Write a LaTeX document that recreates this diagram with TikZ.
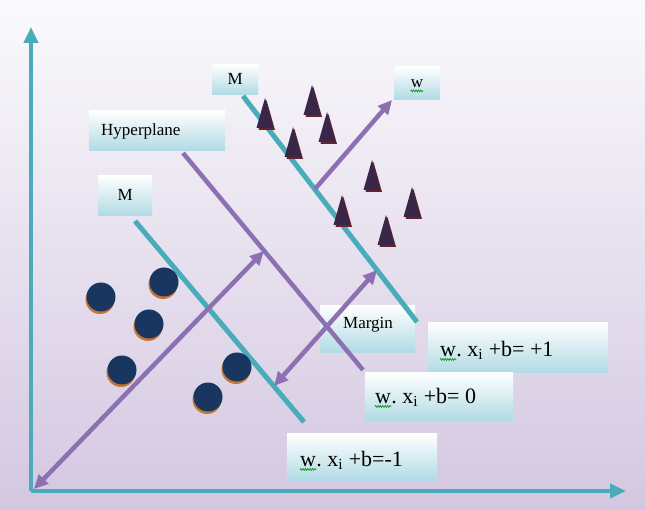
\documentclass[tikz,border=0pt]{standalone}
\usepackage{fontspec}
\setmainfont{Liberation Serif}
\usetikzlibrary{arrows.meta,decorations.pathmorphing}
\definecolor{teal1}{RGB}{72,172,186}
\definecolor{purp}{RGB}{140,112,178}
\definecolor{tric}{RGB}{58,38,72}
\definecolor{trish}{RGB}{100,36,46}
\definecolor{dotc}{RGB}{24,54,96}
\definecolor{dotsh}{RGB}{196,118,50}
\definecolor{boxbot}{RGB}{178,219,229}
\definecolor{bgtop}{RGB}{250,250,252}
\definecolor{bgbot}{RGB}{212,199,225}
\begin{document}
\begin{tikzpicture}[x=1pt,y=-1pt,
  box/.style={shade, top color=white, bottom color=boxbot, inner sep=0pt, draw=none, anchor=north west},
  lbl/.style={inner sep=0pt, font=\fontsize{17}{20}\selectfont},
  eqt/.style={inner sep=0pt, font=\fontsize{22}{25}\selectfont, anchor=base west},
  tealline/.style={teal1, line width=5pt},
  purpline/.style={purp, line width=4.5pt},
  parrow/.style={purp, line width=4.5pt, -{Triangle[length=14pt,width=13pt]}},
  pdarrow/.style={purp, line width=4.5pt, {Triangle[length=14pt,width=13pt]}-{Triangle[length=14pt,width=13pt]}},
  axis/.style={teal1, line width=4.5pt, -{Triangle[length=16pt,width=14pt]}},
  squig/.style={green!55!black, line width=0.6pt, decorate, decoration={zigzag, amplitude=1pt, segment length=2.4pt}}
]
\useasboundingbox (0,0) rectangle (645,510);
\shade[top color=bgtop, bottom color=bgbot] (0,0) rectangle (645,510);

% boxes
\node[box, minimum width=46pt, minimum height=30pt] (bMt) at (212,64) {};
\node[box, minimum width=46pt, minimum height=33pt] (bw) at (394,66) {};
\node[box, minimum width=136pt, minimum height=40pt] (bH) at (89,110) {};
\node[box, minimum width=54pt, minimum height=40pt] (bMl) at (98,175) {};
\node[box, minimum width=95pt, minimum height=47pt] (bMg) at (320,305) {};
\node[box, minimum width=180pt, minimum height=50pt] (bp1) at (428,322) {};
\node[box, minimum width=148pt, minimum height=48pt] (bz) at (365,372) {};
\node[box, minimum width=150pt, minimum height=47pt] (bm1) at (287,433) {};

% label texts
\node[lbl] (tMt) at (bMt.center) {M};
\node[lbl] (tMl) at (bMl.center) {M};
\node[lbl, anchor=base west] (tH) at (101,136) {Hyperplane};
\node[lbl, anchor=base west] (tMg) at (343,329) {Margin};
\node[lbl, anchor=base] (tw) at (417,88) {w};
\draw[squig] ([yshift=-2.5pt]tw.south west) -- ([yshift=-2.5pt]tw.south east);

\node[eqt] (wp1) at (440,356) {w};
\node[eqt] (rp1) at (wp1.base east) {.\ x\textsubscript{i} +b= +1};
\draw[squig] ([yshift=-3pt]wp1.south west) -- ([yshift=-3pt]wp1.south east);
\node[eqt] (wz) at (375,403) {w};
\node[eqt] (rz) at (wz.base east) {.\ x\textsubscript{i} +b= 0};
\draw[squig] ([yshift=-3pt]wz.south west) -- ([yshift=-3pt]wz.south east);
\node[eqt] (wm1) at (300,466) {w};
\node[eqt] (rm1) at (wm1.base east) {.\ x\textsubscript{i} +b=-1};
\draw[squig] ([yshift=-3pt]wm1.south west) -- ([yshift=-3pt]wm1.south east);

% axes
\coordinate (O) at (31,491);
\coordinate (Ytop) at (31,27);
\coordinate (Xend) at (626,491);
\draw[axis] (O) -- (Ytop);
\draw[axis] (O) -- (Xend);

% lines
\coordinate (tMa) at (243,96);
\coordinate (tMb) at (417,322);
\coordinate (hA) at (183,153);
\coordinate (hB) at (363,370);
\coordinate (lMa) at (135,221);
\coordinate (lMb) at (304,422);
\draw[tealline] (tMa) -- (tMb);
\draw[tealline] (lMa) -- (lMb);
\draw[purpline] (hA) -- (hB);

% arrows
\coordinate (wA) at (315,189);
\coordinate (wB) at (392,100);
\coordinate (lA) at (34,489);
\coordinate (lB) at (264,251);
\coordinate (mA) at (274,386);
\coordinate (mB) at (377,270);
\draw[parrow] (wA) -- (wB);
\draw[pdarrow] (lA) -- (lB);
\draw[pdarrow] (mA) -- (mB);

% triangles
\foreach \x/\y in {265/98, 312/85, 293/127, 327/112, 372/160, 412/187, 342/195, 386/215} {
  \fill[trish] (\x+1.5,\y+2) -- (\x+10,\y+32) -- (\x-6.5,\y+32) -- cycle;
  \fill[tric] (\x,\y) -- (\x+8.5,\y+30) -- (\x-8.5,\y+30) -- cycle;
}
% circles
\foreach \x/\y in {101/297, 164/282, 149/324, 122/370, 237/367, 208/397} {
  \fill[dotsh] (\x-1,\y+2.5) circle[radius=14.5pt];
  \fill[dotc] (\x,\y) circle[radius=14.5pt];
}
\end{tikzpicture}
\end{document}
